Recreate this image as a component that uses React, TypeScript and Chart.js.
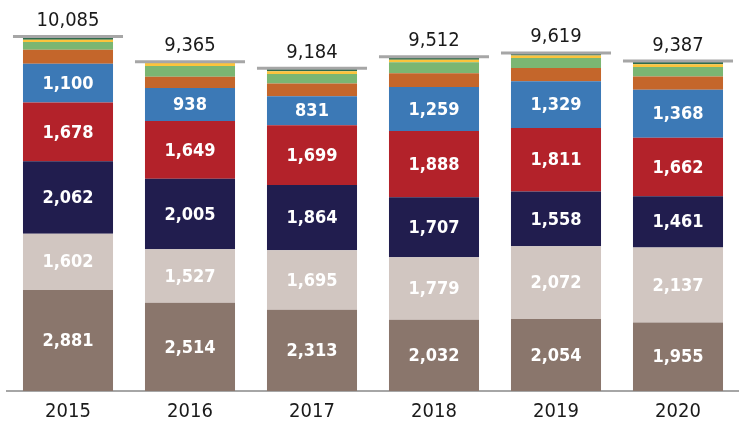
import React, { useEffect, useRef } from "react";
import { Chart, registerables } from "chart.js";

Chart.register(...registerables);

const years = ["2015", "2016", "2017", "2018", "2019", "2020"];
const brown = [2881, 2514, 2313, 2032, 2054, 1955];
const beige = [1602, 1527, 1695, 1779, 2072, 2137];
const navy = [2062, 2005, 1864, 1707, 1558, 1461];
const red = [1678, 1649, 1699, 1888, 1811, 1662];
const blue = [1100, 938, 831, 1259, 1329, 1368];
const orange = [400, 322, 362, 392, 380, 379];
const green = [220, 310, 270, 310, 285, 270];
const yellow = [70, 100, 80, 70, 70, 80];
const darkGreen = [72, 0, 70, 75, 60, 75];

const FONT = "'DejaVu Sans Condensed', 'DejaVu Sans', sans-serif";

const seriesList = [
  { data: brown, color: "#8a766c", label: true },
  { data: beige, color: "#d1c6c1", label: true },
  { data: navy, color: "#211d4e", label: true },
  { data: red, color: "#b3222a", label: true },
  { data: blue, color: "#3c79b6", label: true },
  { data: orange, color: "#c4662b", label: false },
  { data: green, color: "#7bb672", label: false },
  { data: yellow, color: "#fcc43c", label: false },
  { data: darkGreen, color: "#2e6b4d", label: false },
];

const fmt = (v: number) => v.toLocaleString("en-US");

const labelPlugin = {
  id: "labels",
  afterDatasetsDraw(chart: any) {
    const ctx = chart.ctx;
    ctx.save();
    ctx.textAlign = "center";
    ctx.textBaseline = "middle";
    ctx.font = `bold 18px ${FONT}`;
    ctx.fillStyle = "#ffffff";
    chart.data.datasets.forEach((ds: any, di: number) => {
      if (!seriesList[di].label) return;
      const meta = chart.getDatasetMeta(di);
      meta.data.forEach((el: any, i: number) => {
        const y = (el.y + el.base) / 2;
        ctx.fillText(fmt(ds.data[i]), el.x, y + 1);
      });
    });
    // totals
    const yScale = chart.scales.y;
    const meta0 = chart.getDatasetMeta(0);
    years.forEach((_, i) => {
      const total =
        brown[i] + beige[i] + navy[i] + red[i] + blue[i] +
        orange[i] + green[i] + yellow[i] + darkGreen[i];
      const el = meta0.data[i] as any;
      const half = el.width / 2;
      const y = yScale.getPixelForValue(total);
      ctx.strokeStyle = "#a6a6a6";
      ctx.lineWidth = 3;
      ctx.beginPath();
      ctx.moveTo(el.x - half - 10, y - 0.5);
      ctx.lineTo(el.x + half + 10, y - 0.5);
      ctx.stroke();
      ctx.fillStyle = "#1a1a1a";
      ctx.font = `20px ${FONT}`;
      ctx.textBaseline = "alphabetic";
      ctx.fillText(fmt(total), el.x, y - 11);
    });
    ctx.restore();
  },
};

export default function App() {
  const ref = useRef<HTMLCanvasElement>(null);
  useEffect(() => {
    if (!ref.current) return;
    const chart = new Chart(ref.current, {
      type: "bar",
      data: {
        labels: years,
        datasets: seriesList.map((s) => ({
          data: s.data,
          backgroundColor: s.color,
          borderWidth: 0,
          categoryPercentage: 1,
          barPercentage: 0.738,
        })),
      },
      options: {
        responsive: false,
        animation: false,
        devicePixelRatio: 1,
        layout: { padding: { left: 7, right: 0, top: 5, bottom: 0 } },
        plugins: {
          legend: { display: false },
          tooltip: { enabled: false },
        },
        scales: {
          x: {
            stacked: true,
            grid: { display: false, drawTicks: false },
            border: { display: true, color: "#a6a6a6", width: 2 },
            ticks: {
              color: "#1a1a1a",
              font: { family: FONT, size: 20 },
              padding: 9,
            },
            afterFit: (scale: any) => {
              scale.height = 34;
            },
          },
          y: {
            stacked: true,
            display: false,
            min: 0,
            max: 11000,
          },
        },
      },
      plugins: [labelPlugin],
    });
    return () => chart.destroy();
  }, []);
  return (
    <div style={{ position: "fixed", left: 0, top: 0, width: 739, height: 425, background: "#fff" }}>
      <canvas ref={ref} width={739} height={425} style={{ display: "block" }} />
    </div>
  );
}
